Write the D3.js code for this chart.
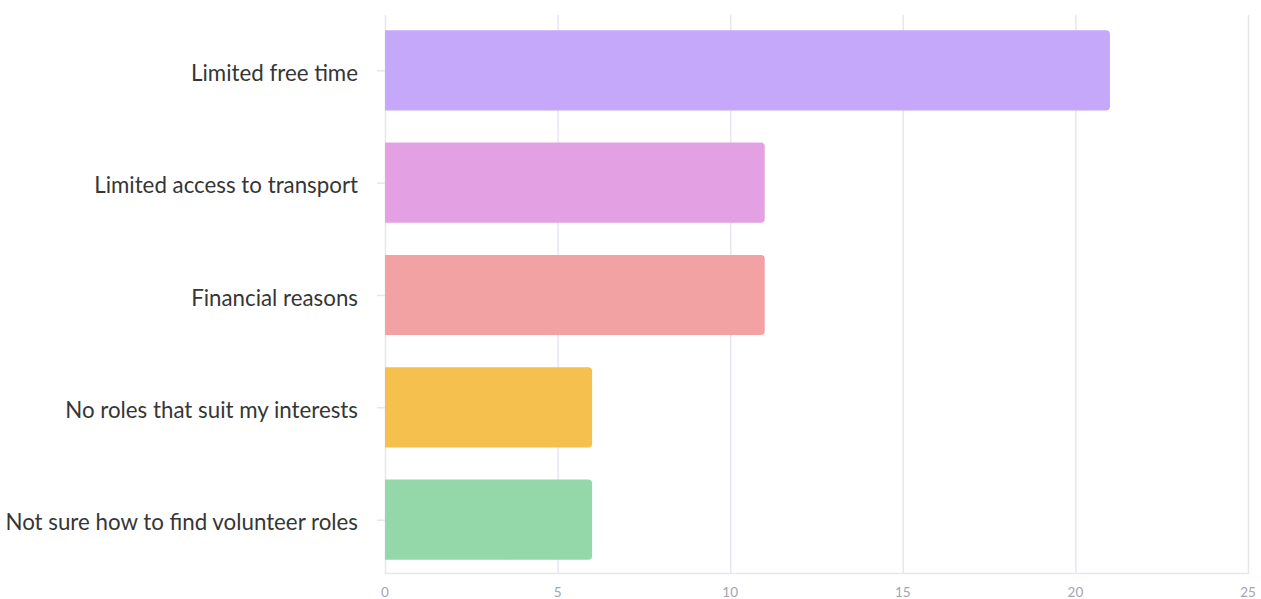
<!DOCTYPE html>
<html><head><meta charset="utf-8">
<script src="https://cdn.jsdelivr.net/npm/d3@7"></script>
<style>body{margin:0;background:#fff;}svg{display:block;}</style>
</head><body>
<svg id="c" width="1261" height="599"></svg>
<script>
const categories = ["Limited free time","Limited access to transport","Financial reasons","No roles that suit my interests","Not sure how to find volunteer roles"];
const values = [21, 11, 11, 6, 6];
const colors = ["#c5a8fa","#e3a0e3","#f2a2a2","#f6c04e","#94d8aa"];
const xTicks = [0,5,10,15,20,25];

(function(){
const svg = d3.select("#c");
const mLeft = 385, mRight = 1248, mTop = 15, mBottom = 573;
const x = d3.scaleLinear().domain([0,25]).range([mLeft,mRight]);
const y = d3.scaleBand().domain(categories).range([mTop+4, mBottom-2]).paddingInner(0.2857).paddingOuter(0.1);

svg.append("g").selectAll("line").data(xTicks).join("line")
  .attr("x1", d=>x(d)+0.5).attr("x2", d=>x(d)+0.5)
  .attr("y1", mTop).attr("y2", mBottom+1)
  .attr("stroke", "#e6e6ef").attr("stroke-width", 1.5);
svg.append("line").attr("x1", mLeft).attr("x2", mRight).attr("y1", mBottom+0.5).attr("y2", mBottom+0.5)
  .attr("stroke","#e6e6ef").attr("stroke-width",1.5);
svg.append("g").selectAll("line").data(categories).join("line")
  .attr("x1", mLeft-8).attr("x2", mLeft).attr("y1", d=>y(d)+y.bandwidth()/2+0.5).attr("y2", d=>y(d)+y.bandwidth()/2+0.5)
  .attr("stroke","#e6e6ef").attr("stroke-width",1.5);

const r = 4;
svg.append("g").selectAll("path").data(categories).join("path")
  .attr("d", (d,i)=>{
    const x0 = x(0), x1 = x(values[i]), y0 = y(d), h = y.bandwidth();
    return `M${x0},${y0}H${x1-r}Q${x1},${y0} ${x1},${y0+r}V${y0+h-r}Q${x1},${y0+h} ${x1-r},${y0+h}H${x0}Z`;
  })
  .attr("fill", (d,i)=>colors[i]);

svg.append("g").selectAll("text").data(categories).join("text")
  .attr("x", mLeft-27).attr("y", d=>y(d)+y.bandwidth()/2+3)
  .attr("dy","0.35em").attr("text-anchor","end")
  .attr("font-family","Lato, 'Open Sans', sans-serif").attr("font-size",22.3)
  .attr("fill","#363636").text(d=>d);

svg.append("g").selectAll("text").data(xTicks).join("text")
  .attr("x", d=>x(d)).attr("y", 592).attr("dy","0.35em").attr("text-anchor","middle")
  .attr("font-family","Lato, 'Open Sans', sans-serif").attr("font-size",13.5)
  .attr("fill","#a3a3b8").text(d=>d);
})();
</script>
</body></html>
